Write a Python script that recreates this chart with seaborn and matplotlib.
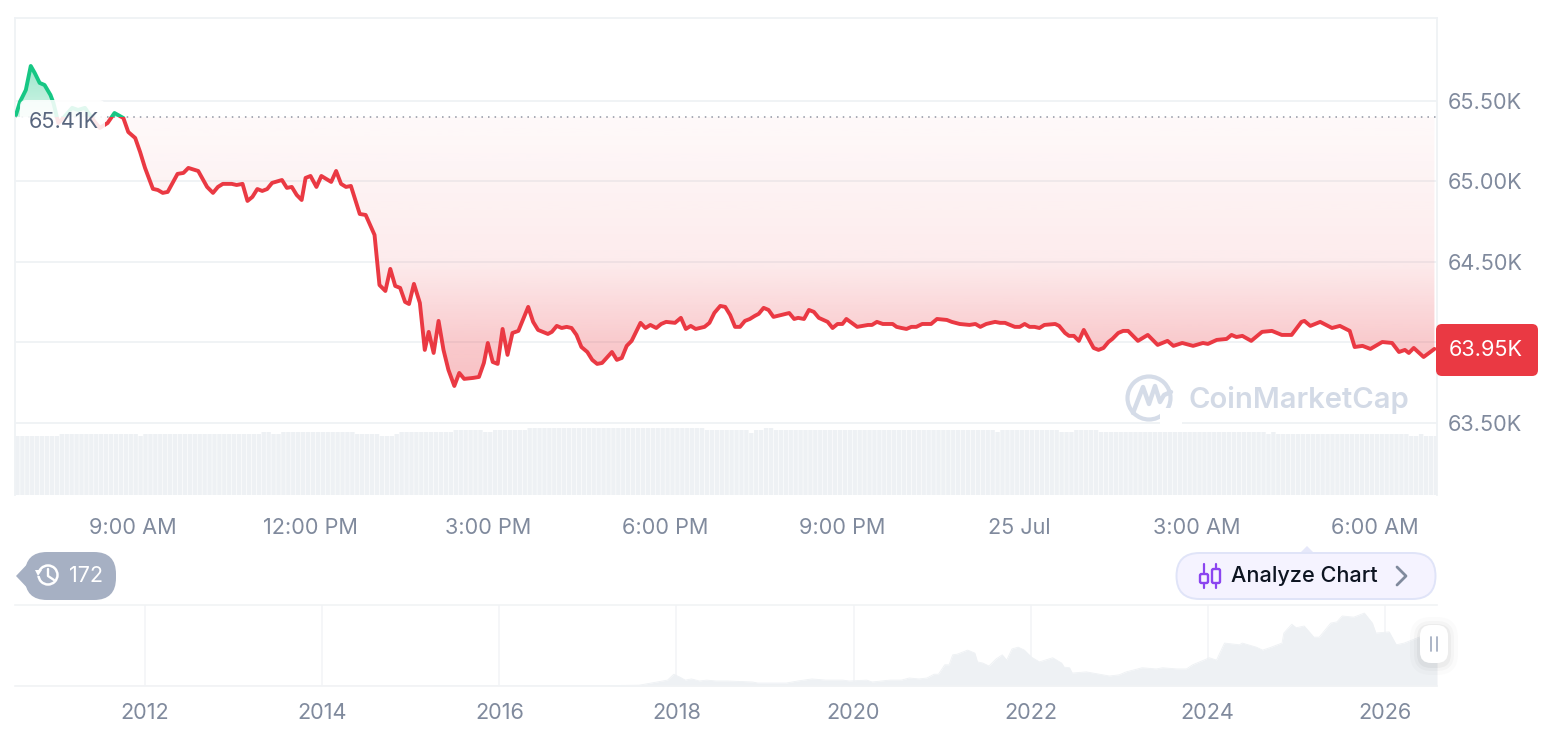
import numpy as np
import pandas as pd
import seaborn as sns
import matplotlib.pyplot as plt
from matplotlib.patches import Circle, FancyBboxPatch, Polygon, Rectangle
from matplotlib.lines import Line2D

W, H = 1566, 732

# minutes since 7:00 AM, 24 Jul
minutes = [1, 5, 11, 16, 20, 25, 30, 36, 39, 44, 49, 58, 64, 71, 78, 86, 94, 101, 110, 115, 122, 127, 132, 140,
           145, 150, 155, 165, 171, 176, 186, 195, 201, 206, 211, 220, 225, 231, 236, 241, 246, 251, 256, 261,
           271, 276, 281, 286, 291, 295, 300, 306, 311, 321, 326, 331, 336, 341, 350, 356, 365, 370, 376, 381,
           386, 391, 396, 400, 405, 411, 416, 420, 425, 430, 435, 440, 446, 451, 456, 465, 471, 476, 480, 485,
           490, 495, 500, 505, 511, 521, 526, 531, 541, 545, 550, 555, 560, 565, 570, 575, 581, 586, 591, 596,
           606, 611, 616, 621, 626, 635, 640, 645, 651, 656, 661, 670, 676, 681, 686, 691, 700, 705, 710, 716,
           721, 726, 731, 736, 741, 746, 751, 755, 760, 765, 770, 786, 791, 795, 801, 806, 811, 816, 825, 830,
           835, 840, 844, 855, 866, 870, 875, 881, 891, 895, 900, 905, 910, 915, 921, 930, 936, 946, 951, 959,
           969, 975, 980, 986, 995, 1000, 1005, 1015, 1020, 1025, 1030, 1035, 1040, 1045, 1056, 1060, 1066, 1070,
           1075, 1080, 1085, 1095, 1100, 1105, 1110, 1114, 1120, 1125, 1130, 1140, 1150, 1160, 1170, 1176, 1185,
           1196, 1206, 1211, 1220, 1230, 1235, 1240, 1246, 1255, 1266, 1276, 1286, 1296, 1306, 1309, 1315, 1325,
           1337, 1345, 1355, 1360, 1368, 1376, 1388, 1398, 1405, 1411, 1415, 1420, 1430, 1441]
prices = [65.413, 65.494, 65.568, 65.717, 65.674, 65.612, 65.599, 65.537, 65.488, 65.363, 65.394, 65.457, 65.444,
          65.457, 65.394, 65.332, 65.363, 65.425, 65.394, 65.307, 65.270, 65.183, 65.084, 64.954,
          64.947, 64.929, 64.935, 65.047, 65.053, 65.084, 65.065, 64.966, 64.929, 64.966, 64.985, 64.985, 64.978,
          64.985, 64.879, 64.904, 64.953, 64.941, 64.953, 64.991,
          65.009, 64.960, 64.966, 64.916, 64.885, 65.022, 65.034, 64.966, 65.034, 64.997, 65.065, 64.985, 64.966,
          64.972, 64.798, 64.792, 64.668, 64.357, 64.320, 64.457,
          64.351, 64.339, 64.252, 64.239, 64.364, 64.246, 63.954, 64.066, 63.935, 64.134, 63.954, 63.830, 63.730,
          63.811, 63.774, 63.780, 63.786, 63.873, 63.997, 63.879,
          63.867, 64.084, 63.923, 64.059, 64.072, 64.221, 64.128, 64.078, 64.053, 64.066, 64.103, 64.090, 64.097,
          64.090, 64.047, 63.972, 63.941, 63.892, 63.867, 63.873,
          63.941, 63.892, 63.904, 63.979, 64.010, 64.122, 64.090, 64.109, 64.090, 64.115, 64.128, 64.122, 64.153,
          64.084, 64.103, 64.084, 64.097, 64.122, 64.184, 64.227,
          64.221, 64.171, 64.097, 64.097, 64.134, 64.146, 64.165, 64.178, 64.215, 64.202, 64.159, 64.183, 64.146,
          64.153, 64.146, 64.202, 64.190, 64.153, 64.128, 64.090,
          64.115, 64.115, 64.146, 64.097, 64.109, 64.109, 64.128, 64.115, 64.115, 64.097, 64.090, 64.084, 64.097,
          64.097, 64.115, 64.115, 64.146, 64.140, 64.128, 64.115,
          64.109, 64.115, 64.097, 64.115, 64.128, 64.122, 64.122, 64.097, 64.097, 64.115, 64.097, 64.097, 64.090,
          64.109, 64.115, 64.103, 64.059, 64.041,
          64.041, 64.010, 64.078, 63.966, 63.954, 63.966, 64.003, 64.022, 64.059, 64.072, 64.072, 64.010, 64.047,
          63.985, 64.010, 63.979, 63.997,
          63.979, 63.997, 63.991, 64.016, 64.022, 64.047, 64.034, 64.041, 64.010, 64.066, 64.072, 64.047, 64.047,
          64.128, 64.134, 64.103, 64.128,
          64.090, 64.103, 64.072, 63.972, 63.979, 63.960, 64.003, 63.997, 63.941, 63.954, 63.935, 63.966, 63.910,
          63.960]
base_price = 65.40

price_ticks = [63.5, 64.0, 64.5, 65.0, 65.5]
price_tick_labels = ['63.50K', '', '64.50K', '65.00K', '65.50K']
time_ticks = [120, 300, 480, 660, 840, 1020, 1200, 1380]
time_labels = ['9:00 AM', '12:00 PM', '3:00 PM', '6:00 PM', '9:00 PM', '25 Jul', '3:00 AM', '6:00 AM']

# volume per 5 minute bar, written as runs
volume_levels = [59, 61, 59, 61, 63, 61, 63, 61, 59, 61, 63, 65, 63, 65, 67, 65, 62, 65, 67, 65,
                 65, 63, 65, 63, 65, 63, 61, 63, 61, 59, 61, 59]
volume_runs = [9, 16, 1, 24, 2, 2, 15, 5, 3, 1, 11, 6, 2, 7, 36, 9, 1, 2, 2, 38,
               7, 1, 12, 3, 5, 34, 1, 1, 27, 2, 1, 3]

# full history for the navigator strip
years = [2010.53, 2016.00, 2017.13, 2017.58, 2017.78, 2017.90, 2017.97, 2018.04, 2018.10, 2018.17, 2018.26, 2018.34,
         2018.45, 2018.58, 2018.86, 2018.92, 2019.24, 2019.37, 2019.53, 2019.69, 2019.88, 2019.95, 2020.15, 2020.21,
         2020.41, 2020.54, 2020.63, 2020.74, 2020.83, 2020.91, 2020.96, 2021.03, 2021.08, 2021.12, 2021.17, 2021.29,
         2021.37, 2021.40, 2021.46, 2021.53, 2021.61, 2021.68, 2021.73, 2021.79, 2021.86, 2021.93, 2022.01, 2022.10,
         2022.25, 2022.35, 2022.38, 2022.44, 2022.47, 2022.63, 2022.89, 2023.00, 2023.08, 2023.26, 2023.42, 2023.49,
         2023.65, 2023.76, 2023.83, 2024.02, 2024.10, 2024.19, 2024.36, 2024.39, 2024.55, 2024.62, 2024.70, 2024.84,
         2024.86, 2024.95, 2025.00, 2025.09, 2025.20, 2025.26, 2025.39, 2025.46, 2025.52, 2025.65, 2025.77, 2025.86,
         2025.90, 2026.05, 2026.13, 2026.22, 2026.39, 2026.54, 2026.59]
history = [0, 0.1, 0.5, 1.4, 6.8, 10, 20, 15, 10, 12, 8.5, 10,
           8.5, 8.5, 6.8, 5, 5, 8.5, 12, 10, 10, 8.5, 10, 6.8,
           10, 10, 13.6, 12, 13.6, 20, 20, 36, 36, 53, 54, 61,
           56, 41, 39, 34, 46, 53, 44, 63, 66, 61, 49, 41,
           48, 39, 32, 31, 22, 24, 17, 19, 24, 31, 29, 31,
           29, 29, 36, 48, 44, 73, 70, 73, 66, 61, 65, 73,
           90, 105, 99, 102, 83, 83, 107, 109, 119, 117, 124, 107,
           90, 92, 70, 73, 83, 87, 87]
year_ticks = [2012, 2014, 2016, 2018, 2020, 2022, 2024, 2026]

RED = '#ea3943'
GREEN = '#16c784'
GRID = '#eff2f5'
MUTED = '#808a9d'
FILL = '#eef1f4'
FS = 15.6


def box(left, top, right, bottom):
    return [left / W, 1 - bottom / H, (right - left) / W, (bottom - top) / H]


def gradient(color, stops_y, stops_a, ymin, ymax):
    rgb = np.array(plt.matplotlib.colors.to_rgb(color))
    ys = np.linspace(ymax, ymin, 256)
    img = np.ones((256, 1, 4))
    img[..., :3] = rgb
    img[:, 0, 3] = np.interp(ys, stops_y, stops_a)
    return img


sns.set_theme(style='white')
plt.rcParams['font.family'] = ['Inter', 'DejaVu Sans']

fig = plt.figure(figsize=(W / 100, H / 100), dpi=100, facecolor='white')

df = pd.DataFrame({'minute': minutes, 'price': prices})
xlim = (0, 1443.6)
ylim = (63.053, 66.015)

# volume sits behind the price panel
ax_vol = fig.add_axes(box(15, 18, 1437, 495), zorder=0)
volumes = np.repeat(volume_levels, volume_runs)
bars = ax_vol.bar(2.5 + 5 * np.arange(len(volumes)), volumes, width=4.4, color=FILL, linewidth=0)
for b in bars:
    b.set_snap(False)  # snapped bars give uneven gaps at this width
ax_vol.set_xlim(xlim)
ax_vol.set_ylim(0, 477)
ax_vol.axis('off')

ax = fig.add_axes(box(15, 18, 1437, 495), zorder=1)
ax.patch.set_visible(False)
ax.set_xlim(xlim)
ax.set_ylim(ylim)

for p in price_ticks:
    ax.axhline(p, color=GRID, lw=1.3, zorder=1)
ax.axhline(base_price, color='#8f96a3', lw=1.1, ls=(0, (1, 3.3)), zorder=2)

under = ax.fill_between(df['minute'], df['price'], base_price)
clip_path = under.get_paths()[0]
under.set_visible(False)
im = ax.imshow(gradient(RED, [63.7, 64.0, 64.5, 65.4], [0.32, 0.27, 0.10, 0.03], 63.6, base_price),
               extent=(xlim[0], xlim[1], 63.6, base_price), aspect='auto', zorder=2)
im.set_clip_path(clip_path, ax.transData)
im = ax.imshow(gradient(GREEN, [base_price, 65.72], [0.2, 0.42], base_price, 65.75),
               extent=(xlim[0], xlim[1], base_price, 65.75), aspect='auto', zorder=2)
im.set_clip_path(clip_path, ax.transData)
ax.set_xlim(xlim)
ax.set_ylim(ylim)

# same line twice, split on the opening price
for color, y0, y1 in [(RED, ylim[0], base_price), (GREEN, base_price, ylim[1])]:
    n = len(ax.lines)
    sns.lineplot(data=df, x='minute', y='price', color=color, linewidth=2.8, estimator=None, ax=ax, zorder=3)
    line = ax.lines[n]
    line.set_solid_joinstyle('round')
    line.set_clip_path(Rectangle((xlim[0], y0), xlim[1] - xlim[0], y1 - y0, transform=ax.transData))

ax.set_xlabel('')
ax.set_ylabel('')
ax.yaxis.tick_right()
ax.set_yticks(price_ticks, price_tick_labels)
ax.set_xticks(time_ticks, time_labels)
ax.tick_params(axis='y', length=0, pad=8, labelsize=FS, labelcolor=MUTED)
ax.tick_params(axis='x', length=0, pad=16.5, labelsize=FS, labelcolor=MUTED)
for side in ['left', 'top', 'right']:
    ax.spines[side].set_color(GRID)
    ax.spines[side].set_linewidth(1.3)
ax.spines['bottom'].set_visible(False)

# navigator
ax_nav = fig.add_axes(box(15, 605, 1437, 686), zorder=1)
ax_nav.set_xlim(2010.53, 2026.59)
ax_nav.set_ylim(0, 137.7)
nav = pd.DataFrame({'year': years, 'value': history})
ax_nav.fill_between(nav['year'], nav['value'], color=FILL, linewidth=0, zorder=1)
sns.lineplot(data=nav, x='year', y='value', color=FILL, linewidth=0.6, estimator=None, ax=ax_nav, zorder=1)
ax_nav.set_xlabel('')
ax_nav.set_ylabel('')
ax_nav.set_yticks([])
ax_nav.set_xticks(year_ticks, [str(y) for y in year_ticks])
ax_nav.tick_params(axis='x', length=0, pad=12.5, labelsize=FS, labelcolor=MUTED)
for y in year_ticks:
    ax_nav.axvline(y, color='#f3f5f7', lw=1.2, zorder=0)
for side in ['left', 'right']:
    ax_nav.spines[side].set_visible(False)
for side in ['top', 'bottom']:
    ax_nav.spines[side].set_color('#f1f3f5')
    ax_nav.spines[side].set_linewidth(1.2)

# page furniture drawn in pixel coordinates
ov = fig.add_axes([0, 0, 1, 1], zorder=5)
ov.set_xlim(0, W)
ov.set_ylim(H, 0)
ov.axis('off')

ov.add_patch(FancyBboxPatch((20, 100), 85, 34, boxstyle='round,pad=0,rounding_size=6',
                            fc='white', ec='none', alpha=0.88))
ov.text(64, 121.5, '65.41K', ha='center', va='center', fontsize=FS, color='#58667e')

ov.add_patch(FancyBboxPatch((1436, 324), 102, 52, boxstyle='round,pad=0,rounding_size=6', fc=RED, ec='none'))
ov.text(1486, 350.5, '63.95K', ha='center', va='center', fontsize=FS, color='white')

# watermark
ov.add_patch(Circle((1149, 398), 21.5, fc='none', ec='#d5dce8', lw=3))
ov.add_patch(Rectangle((1160, 408), 22, 22, fc='white', ec='none', zorder=1.5))
ov.add_line(Line2D([1133, 1143, 1149, 1155, 1160, 1164, 1171],
                   [413, 387, 404, 386, 402, 395, 392], color='#d5dce8', lw=3.2, solid_joinstyle='round', zorder=2))
ov.text(1188, 400, 'CoinMarketCap', ha='left', va='center', fontsize=21, fontweight='semibold', color='#d3dae6')

# history pill
ov.add_patch(FancyBboxPatch((25, 552), 91, 48, boxstyle='round,pad=0,rounding_size=22', fc='#a6b0c3', ec='none'))
ov.add_patch(Polygon([(16, 576), (34, 557), (34, 595)], fc='#a6b0c3', ec='none'))
ov.add_patch(Circle((48, 575), 9.5, fc='none', ec='white', lw=1.8))
ov.add_line(Line2D([48, 48, 54], [569, 576, 580], color='white', lw=1.7))
ov.add_patch(Rectangle((36, 571), 5, 5, fc='#a6b0c3', ec='none'))
ov.add_patch(Polygon([(35, 570), (42, 570), (38, 576)], fc='white', ec='none'))
ov.text(86, 576.5, '172', ha='center', va='center', fontsize=FS, color='white')

# analyze button
ov.add_patch(Polygon([(1300, 553), (1307, 546), (1314, 553)], fc='#e6e8fa', ec='none'))
ov.add_patch(FancyBboxPatch((1176.5, 553), 259, 46, boxstyle='round,pad=0,rounding_size=23',
                            fc='#f5f3ff', ec='#e0e4f8', lw=1.4))
for cx, top, bot in [(1204, 564, 588), (1216, 564, 588)]:
    ov.add_line(Line2D([cx, cx], [top, bot], color='#8b45f0', lw=1.6))
ov.add_patch(FancyBboxPatch((1200, 574), 8, 9, boxstyle='round,pad=0,rounding_size=1.5',
                            fc='#f5f3ff', ec='#8b45f0', lw=1.7, zorder=3))
ov.add_patch(FancyBboxPatch((1212, 569), 8, 14, boxstyle='round,pad=0,rounding_size=1.5',
                            fc='#f5f3ff', ec='#8b45f0', lw=1.7, zorder=3))
ov.text(1231, 576.5, 'Analyze Chart', ha='left', va='center', fontsize=FS, fontweight='medium', color='#0d1421')
ov.add_line(Line2D([1397, 1406, 1397], [567, 576, 585], color='#808a9d', lw=2))

# slider handle with a soft shadow
for grow, a in [(10, 0.015), (6, 0.025), (3, 0.035)]:
    ov.add_patch(FancyBboxPatch((1420 - grow, 627 - grow), 28 + 2 * grow, 38 + 2 * grow,
                                boxstyle=f'round,pad=0,rounding_size={11 + grow}',
                                fc='black', ec='none', alpha=a))
ov.add_patch(FancyBboxPatch((1420, 625), 28, 38, boxstyle='round,pad=0,rounding_size=11', fc='white', ec='none'))
for cx in [1431, 1437]:
    ov.add_line(Line2D([cx, cx], [637, 651], color='#a6b0c3', lw=1.3))

fig.savefig('out.png', dpi=100)
